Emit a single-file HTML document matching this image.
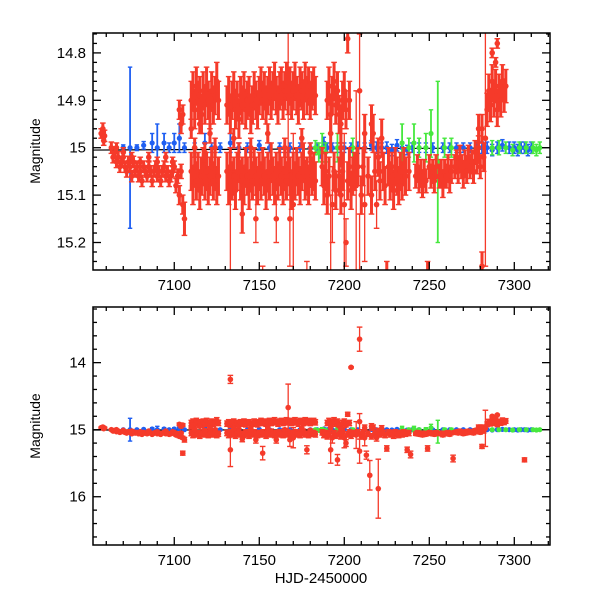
<!DOCTYPE html>
<html><head><meta charset="utf-8"><style>
html,body{margin:0;padding:0;background:#fff;width:600px;height:600px;overflow:hidden;}
svg{display:block;font-family:"Liberation Sans",sans-serif;}
</style></head><body>
<svg id="chart" width="600" height="600" viewBox="0 0 600 600" xmlns="http://www.w3.org/2000/svg">
<defs>
<clipPath id="clipTop"><rect x="93" y="33" width="457" height="237"/></clipPath>
<clipPath id="clipBot"><rect x="93" y="307" width="457" height="238"/></clipPath>
</defs>
<g id="topPanel"></g>
<g id="botPanel"></g>
<text x="0" y="0" transform="translate(40,151) rotate(-90)" text-anchor="middle" font-size="14">Magnitude</text>
<text x="0" y="0" transform="translate(40,426) rotate(-90)" text-anchor="middle" font-size="14">Magnitude</text>
<text x="321" y="583" text-anchor="middle" font-size="15">HJD-2450000</text>
</svg>
<script>
const xTicks=[7100,7150,7200,7250,7300];
const xTickLabels=["7100","7150","7200","7250","7300"];
const topYTicks=[14.8,14.9,15,15.1,15.2];
const topYTickLabels=["14.8","14.9","15","15.1","15.2"];
const botYTicks=[14,15,16];
const botYTickLabels=["14","15","16"];
const modelLine=[[7052,15.005],[7321,15.0]];
const bluePoints=[[7070,15.0,.006],[7074,15.0,.17],[7078,15.0,.006],[7082,14.995,.008],[7087,14.99,.02],[7090,15.0,.05],[7094,14.99,.02],[7097,15.0,.01],[7100,14.99,.02],[7103,14.98,.03],[7106,15.0,.01],[7112,15.0,.01],[7118,14.99,.02],[7122,15.0,.01],[7127,15.0,.01],[7133,14.99,.02],[7138,15.0,.01],[7143,15.0,.01],[7150,14.995,.01],[7156,15.0,.01],[7162,15.0,.01],[7168,15.0,.01],[7174,15.0,.01],[7180,15.0,.01],[7184,15.0,.01],[7186,15.01,.012],[7188,14.99,.012],[7190,15.0,.01],[7193,15.0,.01],[7196,15.0,.01],[7200,15.0,.01],[7204,15.0,.01],[7208,15.0,.012],[7212,15.0,.01],[7216,14.995,.01],[7219,15.0,.012],[7222,15.0,.01],[7225,15.0,.012],[7228,15.005,.012],[7231,14.995,.012],[7234,15.0,.012],[7237,15.005,.01],[7240,15.0,.01],[7244,15.0,.01],[7248,15.0,.01],[7252,15.0,.01],[7258,15.0,.01],[7262,15.0,.01],[7266,15.0,.01],[7270,15.0,.01],[7274,15.0,.01],[7278,15.0,.012],[7281,15.0,.012],[7284,15.0,.012],[7287,15.005,.012],[7290,15.0,.012],[7293,14.995,.012],[7297,15.0,.012],[7300,15.0,.012],[7302,15.005,.012],[7304,15.0,.012],[7306,15.0,.012],[7308,15.005,.012],[7310,15.0,.012]];
const greenPoints=[[7183,15.0,.015],[7185,15.01,.02],[7187,15.0,.03],[7189,15.01,.02],[7196,15.0,.03],[7205,15.0,.02],[7234,14.99,.04],[7238,15.0,.02],[7241,14.99,.04],[7244,15.0,.02],[7248,15.0,.03],[7251,14.97,.05],[7255,15.03,.17],[7259,15.0,.02],[7263,15.0,.02],[7287,15.0,.015],[7291,15.0,.015],[7295,15.0,.012],[7299,15.005,.012],[7303,15.0,.012],[7307,15.0,.012],[7311,15.0,.012],[7313,15.005,.012],[7315,15.0,.012]];
const redPoints=[
[7057,14.97,.01],[7058,14.96,.012],[7059,14.975,.012],[7058.5,14.985,.01],
[7063,15.0,.012],[7064,15.02,.012],[7065,15.01,.012],[7066,15.03,.012],[7067,15.02,.012],[7068,15.04,.012],[7069,15.03,.012],[7070,15.02,.012],[7071,15.04,.012],[7072,15.05,.012],[7073,15.03,.012],[7074,15.04,.012],[7075,15.06,.012],[7076,15.03,.012],[7077,15.05,.012],[7078,15.04,.012],[7079,15.06,.012],[7080,15.05,.012],[7081,15.07,.012],[7082,15.04,.012],[7083,15.05,.012],[7084,15.06,.012],[7085,15.04,.012],[7086,15.05,.012],[7087,15.07,.012],[7088,15.05,.012],[7089,15.04,.012],[7090,15.06,.012],[7091,15.05,.012],[7092,15.07,.012],[7093,15.05,.012],[7094,15.04,.012],[7095,15.06,.012],[7096,15.05,.012],[7097,15.07,.012],[7098,15.06,.012],[7099,15.05,.012],[7100,15.04,.012],[7101,15.08,.015],[7102,15.06,.015],[7103,15.1,.02],[7104,15.05,.015],[7105,15.12,.02],[7103,14.92,.02],[7104,14.95,.02],[7105,14.93,.02],[7106,15.15,.035],[7105,15.35,.03],
[7066,15.0,.01],[7070,15.01,.01],[7075,15.02,.01],[7080,15.03,.01],[7085,15.02,.01],[7090,15.03,.01],[7095,15.02,.01],[7099,15.03,.01],
[7110,14.90,.04],[7111,14.88,.04],[7112,14.92,.04],[7113,14.87,.04],[7114,14.90,.04],[7115,14.89,.04],[7116,14.93,.04],[7117,14.88,.04],[7118,14.91,.04],[7119,14.87,.04],[7120,14.90,.04],[7121,14.92,.04],[7122,14.88,.04],[7123,14.91,.04],[7124,14.89,.04],[7125,14.86,.04],[7126,14.90,.04],
[7110,15.05,.04],[7111,15.08,.04],[7112,15.04,.04],[7113,15.07,.04],[7114,15.05,.04],[7115,15.09,.04],[7116,15.06,.04],[7117,15.04,.04],[7118,15.07,.04],[7119,15.05,.04],[7120,15.08,.04],[7121,15.06,.04],[7122,15.04,.04],[7123,15.07,.04],[7124,15.05,.04],[7125,15.08,.04],[7126,15.06,.04],
[7110,14.96,.02],[7112,15.0,.02],[7115,14.95,.02],[7118,15.01,.02],[7121,14.97,.02],[7124,15.0,.02],
[7131,14.91,.04],[7132,14.89,.04],[7133,14.93,.04],[7134,14.90,.04],[7135,14.88,.04],[7136,14.92,.04],[7137,14.90,.04],[7138,14.94,.04],[7139,14.89,.04],[7140,14.91,.04],[7141,14.88,.04],[7142,14.92,.04],[7143,14.90,.04],[7144,14.89,.04],[7145,14.93,.04],[7146,14.91,.04],[7147,14.88,.04],[7148,14.90,.04],[7149,14.92,.04],[7150,14.89,.04],[7151,14.87,.04],[7152,14.90,.04],[7153,14.88,.04],[7154,14.91,.04],[7155,14.89,.04],[7156,14.87,.04],[7157,14.90,.04],[7158,14.88,.04],[7159,14.86,.04],[7160,14.89,.04],[7161,14.91,.04],[7162,14.88,.04],[7163,14.87,.04],[7164,14.90,.04],[7165,14.88,.04],[7166,14.86,.04],[7167,14.89,.04],[7168,14.87,.04],[7169,14.90,.04],[7170,14.88,.04],[7171,14.86,.04],[7172,14.89,.04],[7173,14.91,.04],[7174,14.87,.04],[7175,14.88,.04],[7176,14.90,.04],[7177,14.86,.04],[7178,14.89,.04],[7179,14.87,.04],[7180,14.90,.04],[7181,14.88,.04],[7182,14.87,.04],[7183,14.89,.04],
[7131,15.05,.04],[7132,15.08,.04],[7133,15.04,.04],[7134,15.07,.04],[7135,15.06,.04],[7136,15.09,.04],[7137,15.05,.04],[7138,15.03,.04],[7139,15.07,.04],[7140,15.06,.04],[7141,15.08,.04],[7142,15.04,.04],[7143,15.06,.04],[7144,15.09,.04],[7145,15.05,.04],[7146,15.07,.04],[7147,15.04,.04],[7148,15.06,.04],[7149,15.08,.04],[7150,15.05,.04],[7151,15.07,.04],[7152,15.04,.04],[7153,15.06,.04],[7154,15.09,.04],[7155,15.05,.04],[7156,15.07,.04],[7157,15.03,.04],[7158,15.06,.04],[7159,15.08,.04],[7160,15.05,.04],[7161,15.07,.04],[7162,15.04,.04],[7163,15.06,.04],[7164,15.08,.04],[7165,15.05,.04],[7166,15.07,.04],[7167,15.04,.04],[7168,15.06,.04],[7169,15.09,.04],[7170,15.05,.04],[7171,15.07,.04],[7172,15.04,.04],[7173,15.06,.04],[7174,15.08,.04],[7175,15.05,.04],[7176,15.03,.04],[7177,15.07,.04],[7178,15.06,.04],[7179,15.08,.04],[7180,15.04,.04],[7181,15.06,.04],[7182,15.05,.04],[7183,15.07,.04],
[7135,14.98,.02],[7145,15.0,.02],[7155,14.97,.02],[7165,15.0,.02],[7175,14.98,.02],[7180,15.01,.02],
[7133,14.25,.06],[7133,15.3,.25],[7148,15.15,.05],[7152,15.35,.1],[7167,14.67,.35],[7168,15.15,.1],[7170,15.12,.15],[7178,15.3,.06],[7140,15.14,.04],[7160,15.15,.05],
[7187,15.04,.04],[7188,15.08,.04],[7189,15.05,.04],[7190,15.1,.04],[7191,15.06,.04],[7192,15.3,.2],[7193,15.12,.08],[7194,15.05,.04],[7195,15.09,.04],[7196,15.45,.08],[7197,15.06,.04],[7198,15.1,.04],[7199,15.05,.04],[7200,15.12,.15],[7201,15.2,.05],[7202,15.07,.04],[7203,15.04,.04],[7204,15.09,.04],[7205,15.06,.04],
[7190,14.9,.04],[7191,14.87,.04],[7192,14.93,.04],[7193,14.89,.04],[7194,14.86,.04],[7195,14.91,.04],[7196,14.88,.04],[7197,14.93,.04],[7198,14.95,.04],[7199,14.9,.04],[7200,14.88,.04],[7201,14.92,.04],[7202,14.77,.03],[7203,14.9,.04],[7204,14.07,.01],[7192,14.97,.04],[7198,15.0,.04],
[7206,15.05,.04],[7207,15.08,.2],[7208,15.04,.04],[7209,13.65,.18],[7209,15.32,.18],[7209,14.88,.12],[7210,15.1,.04],[7211,15.04,.04],[7212,15.12,.12],[7213,15.38,.06],[7214,15.06,.04],[7215,15.68,.22],[7216,15.1,.04],[7217,14.97,.04],[7218,15.05,.04],[7219,15.12,.05],[7220,15.88,.44],[7220,15.02,.04],[7221,15.07,.04],[7222,14.98,.04],[7223,15.05,.04],[7224,15.08,.04],[7225,15.28,.04],[7226,15.04,.04],[7227,15.07,.04],[7228,15.05,.04],[7229,15.09,.04],[7230,15.04,.04],[7231,15.06,.04],[7232,15.08,.04],[7233,15.05,.04],[7234,15.07,.04],[7235,15.04,.04],[7236,15.06,.04],[7237,15.3,.04],[7238,15.05,.04],[7239,15.37,.05],[7216,14.95,.04],[7212,14.97,.04],
[7242,15.06,.025],[7243,15.04,.025],[7244,15.07,.025],[7245,15.05,.025],[7246,15.08,.025],[7247,15.05,.025],[7248,15.07,.025],[7249,15.28,.04],[7250,15.04,.025],[7251,15.06,.025],[7252,15.05,.025],[7253,15.07,.025],[7254,15.04,.025],[7256,15.06,.025],[7257,15.05,.025],[7258,15.08,.025],[7259,15.05,.025],[7260,15.06,.025],[7261,15.04,.025],[7262,15.07,.025],[7263,15.05,.025],[7264,15.43,.05],[7265,15.04,.025],
[7266,15.03,.025],[7267,15.05,.025],[7268,15.02,.025],[7269,15.04,.025],[7270,15.06,.025],[7271,15.03,.025],[7272,15.05,.025],[7273,15.02,.025],[7274,15.04,.025],[7275,15.03,.025],[7276,15.05,.025],[7277,15.01,.025],[7278,15.03,.025],[7279,15.0,.025],[7280,15.04,.025],[7281,15.25,.03],[7281,14.96,.03],[7282,15.02,.03],[7279,14.96,.03],
[7283,14.98,.27],[7284,14.92,.035],[7285,14.88,.035],[7286,14.91,.035],[7287,14.86,.035],[7288,14.9,.035],[7289,14.87,.035],[7290,14.92,.035],[7291,14.88,.035],[7292,14.9,.035],[7293,14.86,.035],[7294,14.89,.035],[7295,14.87,.035],[7287,14.8,.01],[7290,14.78,.01],[7289,14.82,.01],[7306,15.45,.03]
];

const NS='http://www.w3.org/2000/svg';
const X0=93,X1=550,D0=7052.2,D1=7321;
function xs(d){return X0+(d-D0)/(D1-D0)*(X1-X0);}
function mk(tag,attrs,parent){const e=document.createElementNS(NS,tag);for(const k in attrs)e.setAttribute(k,attrs[k]);parent.appendChild(e);return e;}

function drawPanel(g,top,bot,m0,m1,yTicks,yLabels,minorStep,clip,prefix){
  const ys=m=>top+(m-m0)/(m1-m0)*(bot-top);
  const cl=v=>Math.max(top-4,Math.min(bot+4,v));
  const data=mk('g',{'clip-path':'url(#'+clip+')'},g);
  
  
  const ml=mk('line',{x1:xs(modelLine[0][0]),y1:ys(modelLine[0][1]),x2:xs(modelLine[1][0]),y2:ys(modelLine[1][1]),stroke:'#000','stroke-width':1.2},data);
  
  
  function series(pts,col,name,thick){
    const sg=mk('g',{stroke:col,fill:col},data);
    
    
    pts.forEach(p=>{
      const x=xs(p[0]),y=ys(p[1]),ya=ys(p[1]-p[2]),yb=ys(p[1]+p[2]);
      if(yb<top-4||ya>bot+4)return;
      const w=(thick&&p[2]<=0.045)?3:(thick?1.3:1.8);
      const cw=thick?2.8:2.2;
      mk('line',{x1:x,y1:cl(ya),x2:x,y2:cl(yb),'stroke-width':w},sg);
      if(ya>=top-4)mk('line',{x1:x-cw,y1:ya,x2:x+cw,y2:ya,'stroke-width':1.4},sg);
      if(yb<=bot+4)mk('line',{x1:x-cw,y1:yb,x2:x+cw,y2:yb,'stroke-width':1.4},sg);
      if(y>=top-4&&y<=bot+4){
        const c=mk('circle',{cx:x,cy:y,r:thick?2.8:2.6,stroke:'none'},sg);
        
        
      }
    });
  }
  series(bluePoints,'#1f5ff2','blue-series',false);
  series(greenPoints,'#46e83e','green-series',false);
  series(redPoints,'#f53a2a','red-series',true);
  const fr=mk('rect',{x:X0,y:top,width:X1-X0,height:bot-top,fill:'none',stroke:'#000','stroke-width':1.5},g);
  
  
  const ax=mk('g',{stroke:'#000','stroke-width':1.3},g);
  
  
  for(let d=7060;d<=7320;d+=10){
    const x=xs(d),L=(d%50===0)?8:4;
    mk('line',{x1:x,y1:bot,x2:x,y2:bot-L},ax);
    mk('line',{x1:x,y1:top,x2:x,y2:top+L},ax);
  }
  const nMin=Math.round((m1-m0)/minorStep)+2;
  const start=Math.ceil(m0/minorStep)*minorStep;
  for(let i=0;i<nMin;i++){
    const m=start+i*minorStep; if(m>m1)break;
    const isMaj=yTicks.some(t=>Math.abs(t-m)<1e-6);
    const y=ys(m),L=isMaj?8:4;
    mk('line',{x1:X0,y1:y,x2:X0+L,y2:y},ax);
    mk('line',{x1:X1,y1:y,x2:X1-L,y2:y},ax);
  }
  yTicks.forEach((t,i)=>{
    const tx=mk('text',{x:86,y:ys(t)+5,'text-anchor':'end','font-size':15},g);
    tx.textContent=yLabels[i];
    
    
  });
  xTicks.forEach((t,i)=>{
    const tx=mk('text',{x:xs(t),y:bot+20,'text-anchor':'middle','font-size':15},g);
    tx.textContent=xTickLabels[i];
    
    
  });
}
drawPanel(document.getElementById('topPanel'),33,270,14.758,15.258,topYTicks,topYTickLabels,0.02,'clipTop','top');
drawPanel(document.getElementById('botPanel'),307,545,13.17,16.72,botYTicks,botYTickLabels,0.2,'clipBot','bottom');
</script>
</body></html>
